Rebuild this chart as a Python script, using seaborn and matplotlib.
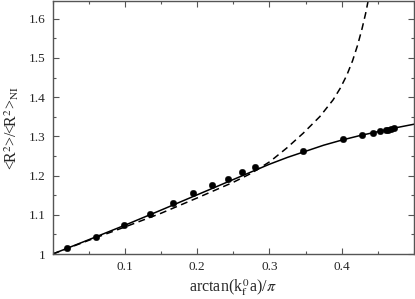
import matplotlib
matplotlib.use("Agg")
import matplotlib.pyplot as plt
import seaborn as sns
import pandas as pd
from matplotlib.ticker import MultipleLocator, FormatStrFormatter

# simulation points
pts_x = [0.020, 0.060, 0.099, 0.134, 0.166, 0.1945, 0.220, 0.2425, 0.262, 0.280,
         0.346, 0.402, 0.428, 0.4435, 0.453, 0.4606, 0.4647, 0.4683, 0.472]
pts_y = [1.0146, 1.044, 1.075, 1.103, 1.130, 1.155, 1.175, 1.192, 1.2086, 1.222,
         1.2637, 1.2928, 1.3038, 1.3097, 1.3132, 1.3158, 1.3173, 1.319, 1.3208]

# solid curve
solid_x = [0, 0.05, 0.1, 0.15, 0.2, 0.25, 0.3, 0.325, 0.35, 0.375, 0.4, 0.425, 0.45, 0.475, 0.5]
solid_y = [1.0, 1.0365, 1.0735, 1.112, 1.151, 1.19, 1.229, 1.2465, 1.262, 1.2775, 1.2905,
           1.302, 1.312, 1.322, 1.331]

# dashed curve
dash_x = [0, 0.05, 0.1, 0.15, 0.2, 0.25, 0.275, 0.3006, 0.3237, 0.3466, 0.3697, 0.388,
          0.398, 0.407, 0.415, 0.422, 0.428, 0.433, 0.437, 0.441]
dash_y = [1.0, 1.035, 1.069, 1.104, 1.143, 1.183, 1.206, 1.2356, 1.27, 1.308, 1.3505, 1.393,
          1.423, 1.456, 1.493, 1.533, 1.574, 1.613, 1.650, 1.69]

sns.set_style("ticks")
plt.rcParams['font.family'] = ['Liberation Serif', 'DejaVu Serif']
plt.rcParams['mathtext.fontset'] = 'stix'

fig = plt.figure(figsize=(4.15, 2.99), dpi=100)
ax = fig.add_axes([0.127, 0.1505, 0.8706, 0.8445])

sns.lineplot(x=solid_x, y=solid_y, ax=ax, color='black', lw=1.1, sort=False)
sns.lineplot(x=dash_x, y=dash_y, ax=ax, color='black', lw=1.1, sort=False,
             linestyle=(0, (4.5, 3)))
sns.scatterplot(x=pts_x, y=pts_y, ax=ax, color='black', s=22, edgecolor='black',
                linewidth=0.3, zorder=3)

ax.set_xlim(0, 0.5)
ax.set_ylim(1, 1.644)
ax.set_xticks([0.1, 0.2, 0.3, 0.4])
ax.xaxis.set_minor_locator(MultipleLocator(0.05))
ax.yaxis.set_major_locator(MultipleLocator(0.1))
ax.yaxis.set_minor_locator(MultipleLocator(0.05))
ax.yaxis.set_major_formatter(FormatStrFormatter('%g'))
ax.xaxis.set_major_formatter(FormatStrFormatter('%g'))

ax.tick_params(which='both', direction='in', top=True, right=True, labelsize=9.5,
               color='#555555', width=0.8)
ax.tick_params(which='major', length=4.5, pad=5)
ax.tick_params(which='minor', length=2.5)
for sp in ax.spines.values():
    sp.set_color('#555555')
    sp.set_linewidth(1.0)

ax.set_xlabel(r'arctan(k$_{\rm f}^{\,0}$a)/$\pi$', fontsize=11.5, labelpad=3)
ax.set_ylabel(r'<R$^2$>/<R$^2$>$_{\rm NI}$', fontsize=11.5, labelpad=6)

fig.savefig('out.png', dpi=100)
